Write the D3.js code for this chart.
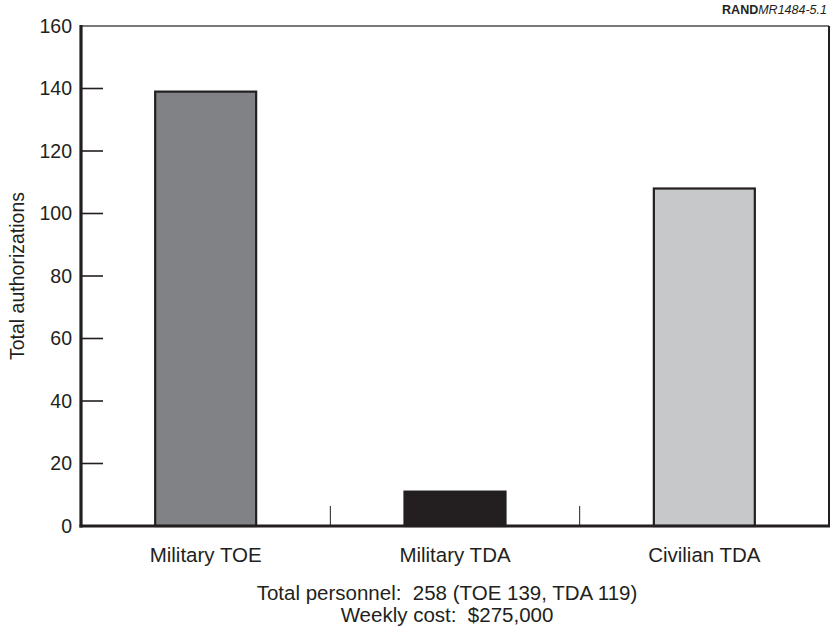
<!DOCTYPE html>
<html><head><meta charset="utf-8">
<script src="https://cdn.jsdelivr.net/npm/d3@7"></script>
<style>body{margin:0;background:#fff;} text{font-family:"Liberation Sans",Arial,Helvetica,sans-serif;fill:#231f20;white-space:pre;}</style>
</head><body>
<svg id="c" width="830" height="630"></svg>
<script>
const categories = ["Military TOE", "Military TDA", "Civilian TDA"];
const values = [139, 11, 108];
const colors = ["#808285", "#231f20", "#c7c8ca"];
const yTicks = [0, 20, 40, 60, 80, 100, 120, 140, 160];
const yLabel = "Total authorizations";
const footnote = ["Total personnel:  258 (TOE 139, TDA 119)", "Weekly cost:  $275,000"];

const svg = d3.select("#c");
const L = 81, R = 829, T = 26, B = 526;
const ink = "#231f20";
const x = d3.scaleBand().domain(categories).range([L, R]).padding(0);
const y = d3.scaleLinear().domain([0, 160]).range([B, T]);

// top & right frame
svg.append("line").attr("x1", L).attr("x2", R).attr("y1", T).attr("y2", T).attr("stroke", "#4d4d4f").attr("stroke-width", 1.5);
svg.append("line").attr("x1", R).attr("x2", R).attr("y1", T).attr("y2", B).attr("stroke", ink).attr("stroke-width", 2);

// bars
const bw = x.bandwidth() * 0.405;
svg.selectAll("rect.bar").data(categories).enter().append("rect")
  .attr("x", d => x(d) + (x.bandwidth() - bw) / 2)
  .attr("y", (d, i) => y(values[i]))
  .attr("width", bw)
  .attr("height", (d, i) => y(0) - y(values[i]))
  .attr("fill", (d, i) => colors[i])
  .attr("stroke", ink).attr("stroke-width", 2.2);

// y ticks (inside)
const yt = yTicks.filter(v => v > 0 && v < 160);
svg.selectAll("line.yt").data(yt).enter().append("line")
  .attr("x1", L).attr("x2", L + 22).attr("y1", d => y(d)).attr("y2", d => y(d))
  .attr("stroke", ink).attr("stroke-width", 1.6);
svg.selectAll("text.yl").data(yTicks).enter().append("text")
  .attr("x", 72).attr("y", d => y(d)).attr("dy", "0.35em")
  .attr("text-anchor", "end").attr("font-size", 19.5).text(d => d);

// category separators
const seps = categories.slice(1).map(c => x(c));
svg.selectAll("line.sep").data(seps).enter().append("line")
  .attr("x1", d => d).attr("x2", d => d).attr("y1", B).attr("y2", B - 20)
  .attr("stroke", ink).attr("stroke-width", 1);

// axes lines
svg.append("line").attr("x1", L).attr("x2", L).attr("y1", T - 1).attr("y2", B + 1.5).attr("stroke", ink).attr("stroke-width", 3.2);
svg.append("line").attr("x1", L - 1.5).attr("x2", 830).attr("y1", B).attr("y2", B).attr("stroke", ink).attr("stroke-width", 3.2);

// category labels
svg.selectAll("text.cat").data(categories).enter().append("text")
  .attr("x", d => x(d) + x.bandwidth() / 2).attr("y", 562)
  .attr("text-anchor", "middle").attr("font-size", 20.5).text(d => d);

// y label
svg.append("text").attr("transform", `translate(24,${(T + B) / 2}) rotate(-90)`)
  .attr("text-anchor", "middle").attr("font-size", 19.5).text(yLabel);

// footnote
svg.selectAll("text.fn").data(footnote).enter().append("text")
  .attr("x", 447).attr("y", (d, i) => 600 + i * 22)
  .attr("text-anchor", "middle").attr("font-size", 20.5).text(d => d);

// RAND label
const rt = svg.append("text").attr("x", 827).attr("y", 14).attr("text-anchor", "end").attr("font-size", 12.5);
rt.append("tspan").attr("font-weight", "bold").text("RAND");
rt.append("tspan").attr("font-style", "italic").text("MR1484-5.1");
</script>
</body></html>
